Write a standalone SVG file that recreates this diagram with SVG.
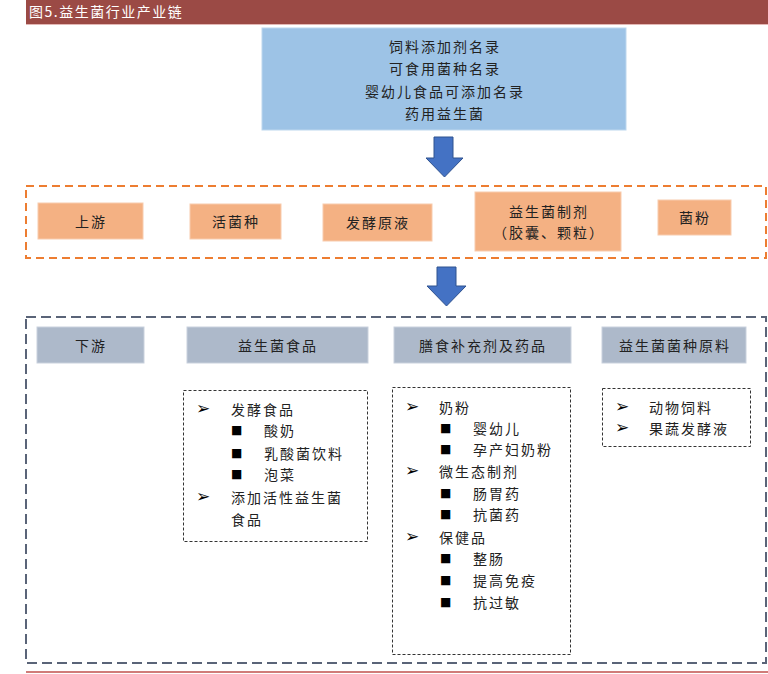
<svg xmlns="http://www.w3.org/2000/svg" width="768" height="674" viewBox="0 0 768 674">
<style>
text{font-family:"Noto Sans CJK SC","Liberation Serif",sans-serif;font-size:14px;fill:#222;dominant-baseline:central}
.c{text-anchor:middle}
.sp{letter-spacing:2px}
.title{fill:#fff;font-size:14px;letter-spacing:1.5px}
.orange{fill:#f4b183;stroke:#f8cbad;stroke-width:1}
.hdr{fill:#adb9ca;stroke:#c9d1dd;stroke-width:1}
.list{fill:none;stroke:#333;stroke-width:1;stroke-dasharray:3 2}
.sym{font-family:"DejaVu Sans",sans-serif;font-size:12px;fill:#000}
.arr{font-family:"DejaVu Sans",sans-serif;font-size:17px;fill:#000}
.arrow{fill:#4472c4;stroke:#2f528f;stroke-width:1}
</style>

<g id="title">
<rect x="26" y="0" width="742" height="24" fill="#9b4a45"/>
<line x1="26" y1="24.5" x2="768" y2="24.5" stroke="#e3b8b5" stroke-width="1"/>
<text class="title" x="29" y="11">图5.益生菌行业产业链</text>
</g>

<g id="lists-top">
<rect x="262" y="28" width="364" height="102" fill="#9dc3e6" stroke="#bdd7ee" stroke-width="1"/>
<text class="c sp" x="445" y="46">饲料添加剂名录</text>
<text class="c sp" x="445" y="68">可食用菌种名录</text>
<text class="c sp" x="445" y="91">婴幼儿食品可添加名录</text>
<text class="c sp" x="445" y="113">药用益生菌</text>
</g>

<g id="connectors">
<polygon class="arrow" points="434,137 453,137 453,158 463,158 444.5,177 426,158 434,158"/>
<polygon class="arrow" points="437,267 456,267 456,286 466,286 446.5,306 427,286 437,286"/>
</g>

<g id="upstream">
<rect x="26" y="186" width="740" height="72" fill="none" stroke="#ed7d31" stroke-width="2" stroke-dasharray="8 5"/>
<g id="n-shangyou"><rect class="orange" x="38" y="203" width="105" height="36"/><text class="c sp" x="91" y="221">上游</text></g>
<g id="n-huojunzhong"><rect class="orange" x="190" y="204" width="91" height="35"/><text class="c sp" x="236" y="221">活菌种</text></g>
<g id="n-fajiao"><rect class="orange" x="323" y="204" width="109" height="37"/><text class="c sp" x="378" y="222">发酵原液</text></g>
<g id="n-zhiji"><rect class="orange" x="475" y="192" width="146" height="59"/><text class="c sp" x="549" y="211">益生菌制剂</text><text class="c sp" x="549" y="232">（胶囊、颗粒）</text></g>
<g id="n-junfen"><rect class="orange" x="658" y="200" width="73" height="35"/><text class="c sp" x="695" y="217">菌粉</text></g>
</g>

<g id="downstream">
<rect x="26" y="317" width="740" height="346" fill="none" stroke="#5a6478" stroke-width="2" stroke-dasharray="10 5"/>
<g id="n-xiayou"><rect class="hdr" x="37" y="327" width="107" height="36"/><text class="c sp" x="91" y="345">下游</text></g>
<g id="n-food"><rect class="hdr" x="187" y="327" width="181" height="36"/><text class="c sp" x="278" y="345">益生菌食品</text></g>
<g id="n-supp"><rect class="hdr" x="394" y="327" width="177" height="36"/><text class="c sp" x="483" y="345">膳食补充剂及药品</text></g>
<g id="n-raw"><rect class="hdr" x="602" y="327" width="144" height="36"/><text class="c sp" x="675" y="345">益生菌菌种原料</text></g>

<g id="list-food">
<rect class="list" x="183.5" y="390.5" width="184" height="151"/>
<text class="arr" x="196" y="408">➢</text><text class="sp" x="231" y="409">发酵食品</text>
<text class="sym" x="231" y="430">■</text><text class="sp" x="264" y="430">酸奶</text>
<text class="sym" x="231" y="453">■</text><text class="sp" x="264" y="453">乳酸菌饮料</text>
<text class="sym" x="231" y="474">■</text><text class="sp" x="264" y="474">泡菜</text>
<text class="arr" x="196" y="496">➢</text><text class="sp" x="231" y="497">添加活性益生菌</text>
<text class="sp" x="231" y="519">食品</text>
</g>

<g id="list-supp">
<rect class="list" x="392.5" y="387.5" width="178" height="267"/>
<text class="arr" x="405" y="406">➢</text><text class="sp" x="439" y="407">奶粉</text>
<text class="sym" x="440" y="428">■</text><text class="sp" x="473" y="428">婴幼儿</text>
<text class="sym" x="440" y="449">■</text><text class="sp" x="473" y="449">孕产妇奶粉</text>
<text class="arr" x="405" y="470">➢</text><text class="sp" x="439" y="471">微生态制剂</text>
<text class="sym" x="440" y="493">■</text><text class="sp" x="473" y="493">肠胃药</text>
<text class="sym" x="440" y="514">■</text><text class="sp" x="473" y="514">抗菌药</text>
<text class="arr" x="405" y="536">➢</text><text class="sp" x="439" y="537">保健品</text>
<text class="sym" x="440" y="558">■</text><text class="sp" x="473" y="558">整肠</text>
<text class="sym" x="440" y="580">■</text><text class="sp" x="473" y="580">提高免疫</text>
<text class="sym" x="440" y="602">■</text><text class="sp" x="473" y="602">抗过敏</text>
</g>

<g id="list-raw">
<rect class="list" x="602.5" y="388.5" width="148" height="58"/>
<text class="arr" x="615" y="406">➢</text><text class="sp" x="649" y="407">动物饲料</text>
<text class="arr" x="615" y="427">➢</text><text class="sp" x="649" y="428">果蔬发酵液</text>
</g>
</g>

<line x1="26" y1="672" x2="768" y2="672" stroke="#c0504d" stroke-width="1.5"/>
</svg>
